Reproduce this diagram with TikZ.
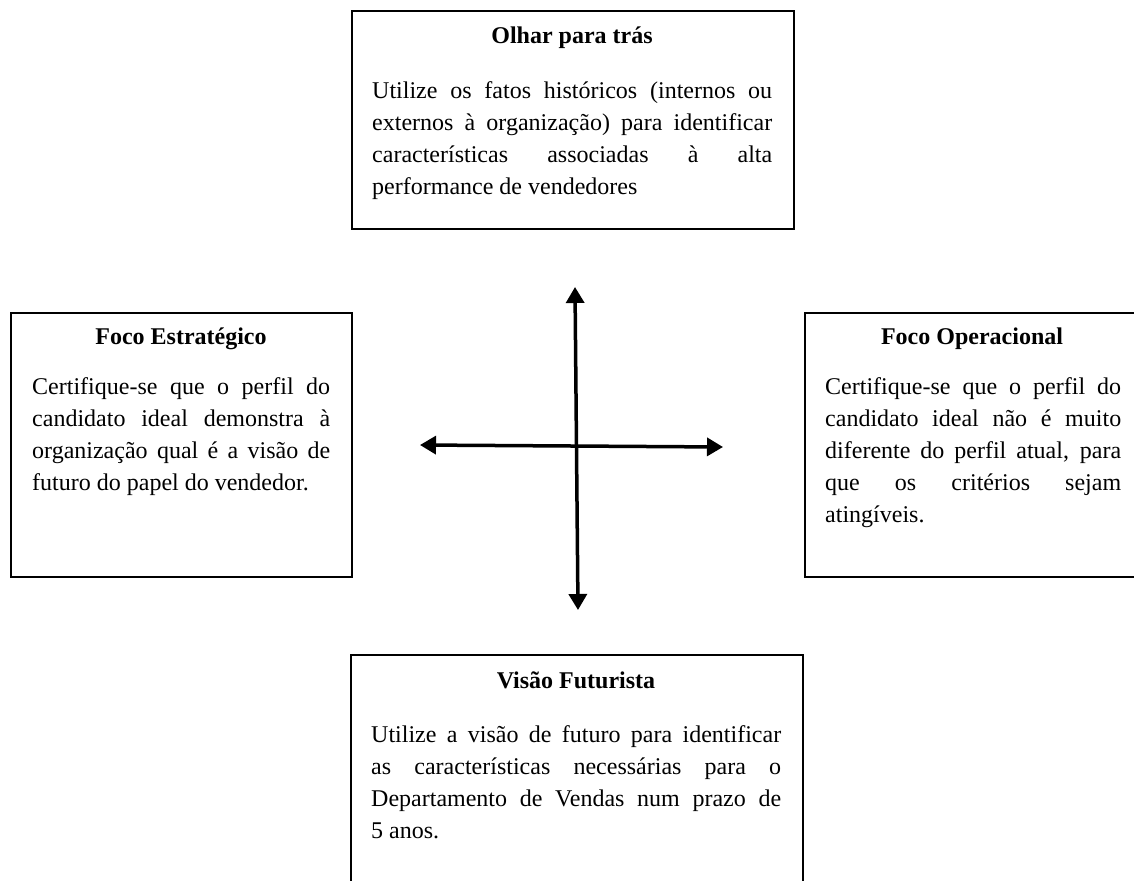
\documentclass[tikz,border=0pt]{standalone}
\usepackage{fontspec}
\setmainfont{Liberation Serif}
\usetikzlibrary{arrows.meta}
\begin{document}
\begin{tikzpicture}[x=1pt,y=-1pt,
  box/.style={draw, line width=2pt, inner sep=0pt, anchor=north west},
  ttl/.style={font=\fontsize{24}{32}\selectfont\bfseries, anchor=base, inner sep=0pt},
  body/.style={font=\fontsize{24}{32}\selectfont, anchor=north west, inner sep=0pt, align=justify},
  arr/.style={line width=3.5pt, {Triangle[length=16pt,width=18pt]}-{Triangle[length=16pt,width=18pt]}}]
\useasboundingbox (0,0) rectangle (1134,880);
\clip (0,0) rectangle (1134,880);
% boxes
\node[box, minimum width=442pt, minimum height=218pt] (topbox) at (351,10) {};
\node[box, minimum width=341pt, minimum height=264pt] (leftbox) at (10,312) {};
\node[box, minimum width=346pt, minimum height=264pt] (rightbox) at (804,312) {};
\node[box, minimum width=452pt, minimum height=260pt] (botbox) at (350,654) {};
% top
\node[ttl] (toptitle) at (572,44) {Olhar para trás};
\node[body, text width=400pt] (toptext) at (372,75.6) {\strut Utilize os fatos históricos (internos ou\linebreak externos à organização) para identificar\linebreak características associadas à alta\linebreak performance de vendedores};
% left
\node[ttl] (lefttitle) at (181,344) {Foco Estratégico};
\node[body, text width=298pt] (lefttext) at (32,371.6) {\strut Certifique-se que o perfil do\linebreak candidato ideal demonstra à\linebreak organização qual é a visão de\linebreak futuro do papel do vendedor.};
% right
\node[ttl] (righttitle) at (972,344) {Foco Operacional};
\node[body, text width=296pt] (righttext) at (825,371.6) {\strut Certifique-se que o perfil do\linebreak candidato ideal não é muito\linebreak diferente do perfil atual, para\linebreak que os critérios sejam\linebreak atingíveis.};
% bottom
\node[ttl] (bottitle) at (576,688) {Visão Futurista};
\node[body, text width=410pt] (bottext) at (371,719.6) {\strut Utilize a visão de futuro para identificar\linebreak as características necessárias para o\linebreak Departamento de Vendas num prazo de\linebreak 5 anos.};
% cross arrows
\coordinate (vtop) at (575,287);
\coordinate (vbot) at (578,610);
\coordinate (hleft) at (420,445);
\coordinate (hright) at (723,447);
\draw[arr] (vtop) -- (vbot);
\draw[arr] (hleft) -- (hright);
\end{tikzpicture}
\end{document}
